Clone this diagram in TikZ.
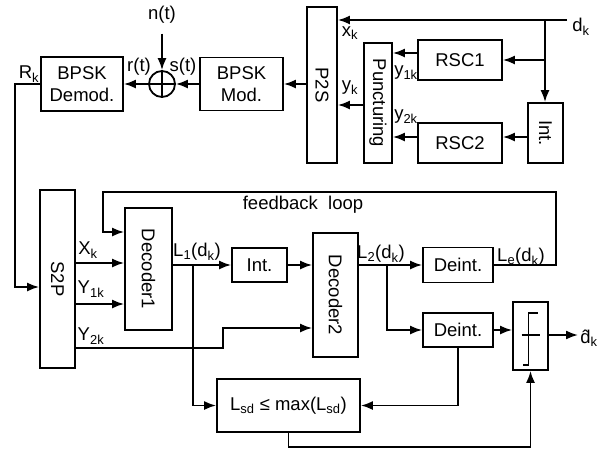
\documentclass[tikz,border=0pt]{standalone}
\usepackage{fontspec}
\setmainfont{Liberation Sans}
\usepackage{graphicx}
\usetikzlibrary{arrows.meta}
\newcommand{\sbs}[1]{\textsubscript{#1}}
\begin{document}
\begin{tikzpicture}[x=1pt, y=-1pt, line width=1.8pt,
          font=\fontsize{18.5}{22}\selectfont,
          block/.style = {draw, rectangle, inner sep=0pt, align=center},
          arr/.style = {-{Latex[length=12pt,width=9pt]}},
          lbl/.style = {inner sep=0pt}]
  \useasboundingbox (0,0) rectangle (599,450);
  % transmitter
  \node[block, minimum width=82pt, minimum height=54pt] (demod) at (82,84) {BPSK\\Demod.};
  \node[block, minimum width=83pt, minimum height=53pt] (mod) at (241.5,84) {BPSK\\Mod.};
  \node[draw, circle, minimum size=26pt, inner sep=0pt] (add) at (162,84) {};
  \draw (add.north) -- (add.south) (add.west) -- (add.east);
  \node[block, minimum width=30pt, minimum height=156pt] (p2s) at (322,85) {\rotatebox{-90}{P2S}};
  \node[block, minimum width=28pt, minimum height=120pt] (punct) at (378,103) {\rotatebox{-90}{Puncturing}};
  \node[block, minimum width=84pt, minimum height=40pt] (rsc1) at (460,60) {RSC1};
  \node[block, minimum width=84pt, minimum height=40pt] (rsc2) at (460,143) {RSC2};
  \node[block, minimum width=35pt, minimum height=60pt] (int1) at (545.5,133) {\rotatebox{-90}{Int.}};
  % receiver
  \node[block, minimum width=35pt, minimum height=178pt] (s2p) at (57.5,279) {\rotatebox{-90}{S2P}};
  \node[block, minimum width=47pt, minimum height=122pt] (dec1) at (148.5,269) {\rotatebox{-90}{Decoder1}};
  \node[block, minimum width=55pt, minimum height=34pt] (int2) at (259.5,265) {Int.};
  \node[block, minimum width=45pt, minimum height=124pt] (dec2) at (335.5,295) {\rotatebox{-90}{Decoder2}};
  \node[block, minimum width=70pt, minimum height=35pt] (deint1) at (458,265) {Deint.};
  \node[block, minimum width=70pt, minimum height=34pt] (deint2) at (458,330) {Deint.};
  \node[block, minimum width=35pt, minimum height=68pt] (dec) at (530.5,336) {};
  \draw[line width=1.4pt] ([shift={(7,-23)}]dec.center) -- ++(-9,0) -- ++(0,52) -- ++(-6,0);
  \draw[line width=1.4pt] ([shift={(-9,-1)}]dec.center) -- ++(18,0);
  \node[block, minimum width=143pt, minimum height=53pt] (lsd) at (288.5,405.5) {L\sbs{sd} ≤ max(L\sbs{sd})};
  % labels
  \node[lbl] (nt) at (162,15) {n(t)};
  \node[lbl] at (139,67) {r(t)};
  \node[lbl] at (183,67) {s(t)};
  \node[lbl] at (29,74) {R\sbs{k}};
  \node[lbl] at (350,33) {x\sbs{k}};
  \node[lbl] at (350,88) {y\sbs{k}};
  \node[lbl] at (406,73) {y\sbs{1k}};
  \node[lbl] at (406,117) {y\sbs{2k}};
  \node[lbl] at (581,27) {d\sbs{k}};
  \node[lbl] at (88,250) {X\sbs{k}};
  \node[lbl] at (91,289) {Y\sbs{1k}};
  \node[lbl] at (91,336) {Y\sbs{2k}};
  \node[lbl] at (197,252) {L\sbs{1}(d\sbs{k})};
  \node[lbl] at (381,254) {L\sbs{2}(d\sbs{k})};
  \node[lbl] at (521,257) {L\sbs{e}(d\sbs{k})};
  \node[lbl] at (303,205) {feedback\ \ loop};
  \node[lbl] at (589,338) {\^{d}\sbs{k}};
  % connectors
  \coordinate (dk) at (567,20);
  \coordinate (br1) at (545,20);
  \draw[arr] (dk) -- (dk -| p2s.east);
  \draw[arr] (br1) -- (br1 |- int1.north);
  \draw[arr] (br1 |- rsc1.east) -- (rsc1.east);
  \draw[arr] (rsc1.west |- 0,53) -- (punct.east |- 0,53);
  \draw[arr] (int1.west |- 0,137) -- (rsc2.east |- 0,137);
  \draw[arr] (rsc2.west |- 0,137) -- (punct.east |- 0,137);
  \draw[arr] (punct.west |- 0,105) -- (p2s.east |- 0,105);
  \draw[arr] (p2s.west |- mod.east) -- (mod.east);
  \draw[arr] (mod.west) -- (add.east);
  \draw[arr] (add.west) -- (demod.east);
  \draw[arr] ([yshift=-9pt]nt.south) -- (add.north);
  \draw[arr] (demod.west) -- (15,84) -- (15,287) -- (s2p.west |- 0,287);
  \draw[arr] (deint1.east) -- (556,265) -- (556,192) -- (103,192) -- (103,232) -- (dec1.west |- 0,232);
  \draw[arr] (s2p.east |- 0,263) -- (dec1.west |- 0,263);
  \draw[arr] (s2p.east |- 0,304) -- (dec1.west |- 0,304);
  \draw[arr] (s2p.east |- 0,348) -- (223,348) -- (223,328) -- (dec2.west |- 0,328);
  \coordinate (j1) at (193,265);
  \coordinate (j2) at (387,265);
  \draw[arr] (dec1.east |- int2.west) -- (int2.west);
  \draw[arr] (j1) -- (j1 |- lsd.west) -- (lsd.west);
  \draw[arr] (int2.east) -- (dec2.west |- int2.east);
  \draw[arr] (dec2.east |- deint1.west) -- (deint1.west);
  \draw[arr] (j2) -- (j2 |- deint2.west) -- (deint2.west);
  \draw[arr] (deint2.east) -- (dec.west |- deint2.east);
  \coordinate (out) at (578,335);
  \draw[arr] (dec.east |- out) -- (out);
  \draw[arr] (deint2.south) -- (deint2.south |- lsd.east) -- (lsd.east);
  \draw[arr] (lsd.south) -- (lsd.south |- 0,447) -- (dec.south |- 0,447) -- (dec.south);
\end{tikzpicture}
\end{document}
